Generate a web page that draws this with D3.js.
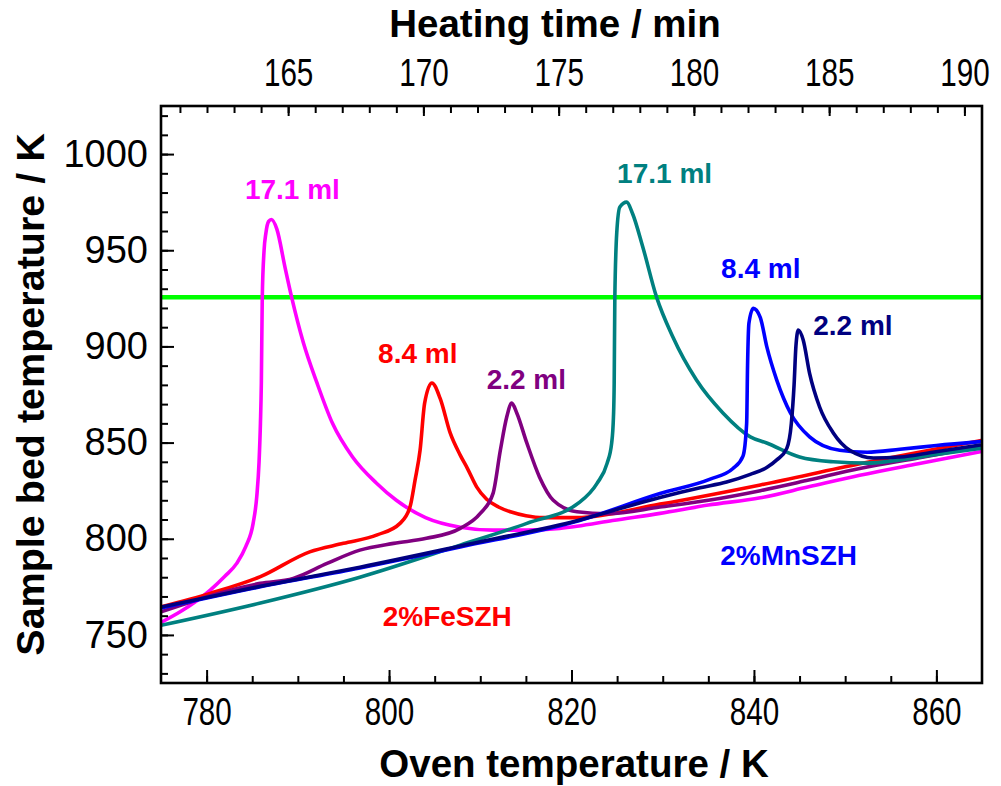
<!DOCTYPE html>
<html><head><meta charset="utf-8">
<script src="https://cdn.jsdelivr.net/npm/d3@7"></script>
<style>
body{margin:0;background:#fff}
svg{display:block}
text{font-family:"Liberation Sans",Arial,Helvetica,sans-serif}
</style>
</head><body>
<svg id="chart" width="1001" height="786"></svg>
<script>
// ---- axis tick labels ----
const ovenTicks = [780, 800, 820, 840, 860];
const timeTicks = [165, 170, 175, 180, 185, 190];
const bedTicks = [750, 800, 850, 900, 950, 1000];
const ovenDomain = [775, 865];
const bedDomain = [725, 1025];
const timeDomain = [160.3, 190.65];
const limitTemp = 925.5;

// ---- series: [oven temperature K, sample bed temperature K] ----
const fe17 = [[775,756.5],[777.1,762],[780.4,773.3],[782,780.5],[783.3,787.2],[784.3,796],[785.1,808],[785.5,822],[785.75,840],[785.9,860],[786.0,881],[786.1,925],[786.3,950],[786.5,959],[786.8,965],[787.1,966],[787.7,961],[788.6,941],[789.3,926],[790.6,902],[792.1,881],[793.8,860],[796.0,842.5],[798.6,829],[800.8,820],[804.0,811],[807.8,806],[811.4,804.5],[815.1,804.5],[818.7,805.4],[820.6,806.5],[824.5,809.5],[829.7,813.2],[835,817.5],[840.7,821.3],[846,827],[851.6,833],[858,839],[864.8,845.2]];
const fe8 = [[775,764.6],[780.4,771.6],[785.9,780.3],[791.3,793.2],[795.0,797.6],[798.7,802],[801.2,808],[802.3,816.6],[802.85,830.5],[803.4,846],[803.9,870.5],[804.7,881],[805.6,873],[806.7,855],[807.8,843.5],[808.6,836.5],[809.6,827],[810.7,820.5],[812,816.5],[813.3,814],[815,812],[816.9,811],[820.6,811],[829.7,818],[840.7,828],[851.6,839],[864.8,851]];
const fe2 = [[775,762],[785.9,776.8],[789.5,779.4],[793.2,787.2],[796.8,794.1],[800.5,797.6],[804.1,800.2],[807.8,805.4],[810.0,813.2],[811.4,823.6],[812.2,846],[812.9,863.3],[813.45,870.5],[814.0,865.4],[815.1,849.8],[816.5,832],[818.0,820],[820.6,814],[824,813],[829.7,816.5],[835,820],[840.7,825],[846,830.5],[851.6,836.5],[858,842],[864.8,847.8]];
const mn17 = [[775,755],[785.9,766.6],[796.8,780],[807.8,796.7],[815.1,808],[820.9,819],[822.8,828.8],[823.9,839.2],[824.4,849.6],[824.6,863.4],[824.68,881],[824.75,925],[824.96,959],[825.3,972.5],[826.05,975],[826.7,969],[827.8,952],[829.3,926],[831.1,905],[833.7,882.5],[836.6,865.4],[839.6,853],[841.4,849.8],[845.0,842.5],[848.7,840],[852.4,839.3],[856.0,841],[859.6,843.5],[864.8,847]];
const mn8 = [[775,764],[785.9,775],[796.8,784.8],[807.8,795.7],[820.9,809.5],[829.7,823.5],[835.2,831],[837.7,836.5],[838.8,843],[839.2,860],[839.3,890],[839.45,912],[839.93,919.8],[840.7,915],[841.4,900],[842.5,882.5],[844.0,865.4],[846.1,853],[849.4,846],[852.4,845],[856.0,846.5],[860,848.5],[864.8,850.5]];
const mn2 = [[775,764.5],[785.9,775.3],[796.8,785.2],[807.8,796.2],[820.9,809.8],[829.7,821.5],[834.1,826.5],[837.0,829.5],[839.6,833.5],[841.4,837],[842.5,841],[843.6,847],[844.1,860],[844.4,880],[844.6,900],[844.86,908.5],[845.4,903.3],[846.1,886],[847.2,868.5],[848.7,855],[850.5,846],[853.1,842],[856.0,842.5],[859.6,845],[864.8,848.7]];

const seriesData = [fe17, fe8, fe2, mn17, mn8, mn2];
const seriesColors = ["#ff00ff","#ff0000","#800080","#008080","#0000ff","#000080"];

// annotation texts, anchored in data units [oven T, bed T]
const noteTexts = ["17.1 ml","8.4 ml","2.2 ml","17.1 ml","8.4 ml","2.2 ml","2%FeSZH","2%MnSZH"];
const noteAnchors = [[784.2,976.6],[798.8,891.4],[810.7,877.8],[825.0,985],[836.4,935.6],[846.5,905.9],[799.3,754.6],[836.3,786.3]];
const noteColors = ["#ff00ff","#ff0000","#800080","#008080","#0000ff","#000080","#ff0000","#0000ff"];

// ---- layout ----
const L = 161, R = 982, T = 106, B = 683;
const svg = d3.select("#chart");
const x = d3.scaleLinear().domain(ovenDomain).range([L, R]);
const xt = d3.scaleLinear().domain(timeDomain).range([L, R]);
const y = d3.scaleLinear().domain(bedDomain).range([B, T]);

svg.append("clipPath").attr("id","clip").append("rect")
  .attr("x", L).attr("y", T).attr("width", R-L).attr("height", B-T);

// curves
const line = d3.line().x(d => x(d[0])).y(d => y(d[1])).curve(d3.curveMonotoneX);
const g = svg.append("g").attr("clip-path","url(#clip)");
g.append("line").attr("x1", L).attr("x2", R).attr("y1", y(limitTemp)).attr("y2", y(limitTemp))
  .attr("stroke","#00ff00").attr("stroke-width",4.5);
seriesData.forEach((s,i) => {
  g.append("path").datum(s).attr("d", line).attr("fill","none")
    .attr("stroke", seriesColors[i]).attr("stroke-width",3.6)
    .attr("stroke-linejoin","round").attr("stroke-linecap","round");
});

// axes
function styleAxis(sel){ sel.select(".domain").remove(); sel.selectAll("line").attr("stroke","#000").attr("stroke-width",2); }
const fmt = d3.format("d");
// bottom
svg.append("g").attr("transform",`translate(0,${B})`)
  .call(d3.axisBottom(x).tickValues(d3.range(780, 865, 5)).tickFormat("").tickSize(-7)).call(styleAxis);
svg.append("g").attr("transform",`translate(0,${B})`)
  .call(d3.axisBottom(x).tickValues(ovenTicks).tickFormat(fmt).tickSize(-13).tickPadding(15)).call(styleAxis)
  .selectAll("text").attr("font-size",38).attr("fill","#000").attr("dy","0.71em")
  .attr("transform","scale(0.78,1)");
// left
svg.append("g").attr("transform",`translate(${L},0)`)
  .call(d3.axisLeft(y).tickValues(d3.range(730, 1025, 10)).tickFormat("").tickSize(-7)).call(styleAxis);
svg.append("g").attr("transform",`translate(${L},0)`)
  .call(d3.axisLeft(y).tickValues(bedTicks).tickFormat(fmt).tickSize(-13).tickPadding(13)).call(styleAxis)
  .selectAll("text").attr("font-size",38).attr("fill","#000");
// top
svg.append("g").attr("transform",`translate(0,${T})`)
  .call(d3.axisTop(xt).tickValues(d3.range(161, 191, 1)).tickFormat("").tickSize(-7)).call(styleAxis);
svg.append("g").attr("transform",`translate(0,${T})`)
  .call(d3.axisTop(xt).tickValues(timeTicks).tickFormat(fmt).tickSize(-10).tickPadding(20)).call(styleAxis)
  .selectAll("text").attr("font-size",38).attr("fill","#000")
  .attr("transform","scale(0.78,1)");

// frame
svg.append("rect").attr("x",L).attr("y",T).attr("width",R-L).attr("height",B-T)
  .attr("fill","none").attr("stroke","#000").attr("stroke-width",2.6);

// titles
svg.append("text").attr("x",574).attr("y",777).attr("text-anchor","middle")
  .attr("font-size",38.5).attr("font-weight","bold").text("Oven temperature / K");
svg.append("text").attr("x",555).attr("y",37).attr("text-anchor","middle")
  .attr("font-size",38.5).attr("font-weight","bold").text("Heating time / min");
svg.append("text").attr("transform",`translate(44,${(T+B)/2}) rotate(-90)`).attr("text-anchor","middle")
  .attr("font-size",39.5).attr("font-weight","bold").text("Sample bed temperature / K");

// annotations
noteTexts.forEach((t,i) => {
  svg.append("text").attr("x", x(noteAnchors[i][0])).attr("y", y(noteAnchors[i][1]))
    .attr("fill", noteColors[i]).attr("font-size",28).attr("font-weight","bold").text(t);
});
</script>
</body></html>
